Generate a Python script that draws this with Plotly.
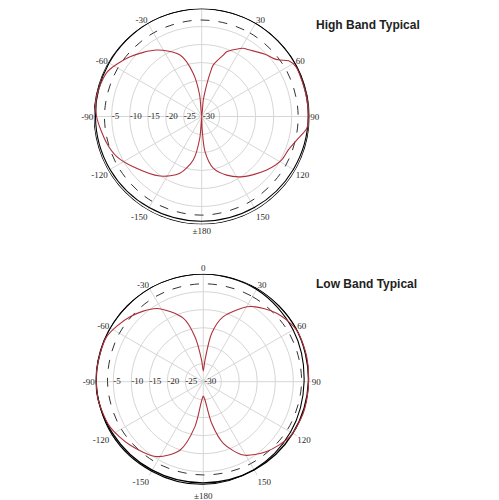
import plotly.graph_objects as go

# angles in degrees (0 = top, clockwise), levels in dB
high_red_ang = [0, 5.5, 7.6, 10.9, 12.7, 19.4, 21.1, 31.4, 33.8, 46.6, 50.9, 54.2, 57.4, 62.3,
                67.1, 80.2, 90, 96.4, 103.9, 111.1, 118.5, 129.5, 145.4, 156.9, 167.4, 174.6, 178, 180,
                185, 191, 201, 215, 233.7, 244.7, 254.2, 270, 280.7, 295.3, 309.8, 325.9, 340.6, 349,
                354.5, 360]
high_red_db = [-30, -25.4, -23, -17.8, -15.3, -11.9, -10.7, -7.8, -7.5, -5.1, -4.4, -3.2, -1.3, -0.4,
               -0.4, -0.4, -0.4, -0.6, -2.8, -4.2, -4.7, -6.6, -9.7, -12.3, -15.3, -20.2, -26.7, -30,
               -24, -17.7, -13.1, -9.8, -6.4, -3.9, -2.6, -0.8, -0.3, -1.0, -4.1, -7.7, -11.9, -17.8,
               -24, -30]

low_red_ang = [0, 4.5, 9.8, 17.1, 31.9, 47, 61, 76.4, 92.7, 107.5, 122.4, 137.8, 151.4, 162, 168.6,
               174.7, 180, 185.3, 190.5, 198.8, 211.9, 229.2, 244.3, 260.1, 276.3, 295, 311.6, 327.6,
               342.5, 349.5, 355.5, 360]
low_red_db = [-27, -24, -16.4, -11.1, -5.4, -2.1, -0.4, -0.45, -0.8, -0.9, -1.5, -3.8, -6.8, -12, -18.2,
              -24.9, -26, -24.5, -17.3, -9.9, -5.5, -3.1, -1.2, -0.4, -0.2, -0.4, -2.8, -5.9,
              -11.5, -17.3, -24, -27]

ring_ang = [0, 30, 60, 90, 120, 150, 180, 210, 240, 270, 300, 330, 360]
high_outer_a = [0, 0, 0, 0, 0, 0, 0, 0, 0, 0, 0, 0, 0]
high_outer_b = [0, -0.1, -0.2, -0.4, -0.6, -0.8, -0.9, -0.8, -0.6, -0.5, -0.3, -0.1, 0]
high_dash = [-3.2, -3.2, -3.2, -3.2, -3.0, -2.8, -2.6, -2.7, -2.9, -3.0, -3.1, -3.2, -3.2]

low_outer_a = [0, -0.1, -0.3, -0.8, -1.3, -1.7, -1.9, -1.6, -1.0, -0.1, 0, 0, 0]
low_outer_b = [-0.1, -0.4, -1.2, -2.0, -2.0, -1.8, -1.5, -1.3, -0.7, -0.3, -0.2, -0.1, -0.1]
low_dash = [-2.8, -2.7, -2.6, -2.7, -3.1, -3.7, -4.1, -4.0, -3.7, -3.4, -3.1, -2.9, -2.8]

ang_ticks = [0, 30, 60, 90, 120, 150, 180, 210, 240, 270, 300, 330]
ang_labels = ["0", "30", "60", "90", "120", "150", "±180", "-150", "-120", "-90", "-60", "-30"]

# dB labels run along the left spoke, -30 just right of centre
rad_ticks = [-30, -25, -20, -15, -10, -5, 0]
rad_label_ang = [90, 270, 270, 270, 270, 270]
rad_label_r = [-29.7, -25, -20, -15, -10, -5]
rad_labels = ["-30", "-25", "-20", "-15", "-10", "-5"]

RED = "#b0303a"
LABEL_FONT = dict(family="Liberation Serif", size=9, color="#2a2a2a")
fig = go.Figure()

def add_set(sub, red_a, red_r, outer_a, outer_b, dash):
    fig.add_trace(go.Scatterpolar(theta=ring_ang, r=outer_a, mode="lines", subplot=sub,
                                  line=dict(color="black", width=1.4, shape="spline"),
                                  cliponaxis=False, hoverinfo="skip"))
    fig.add_trace(go.Scatterpolar(theta=ring_ang, r=outer_b, mode="lines", subplot=sub,
                                  line=dict(color="black", width=1.1, shape="spline"),
                                  cliponaxis=False, hoverinfo="skip"))
    fig.add_trace(go.Scatterpolar(theta=ring_ang, r=dash, mode="lines", subplot=sub,
                                  line=dict(color="#333333", width=1, dash="dash", shape="spline"),
                                  hoverinfo="skip"))
    fig.add_trace(go.Scatterpolar(theta=red_a, r=red_r, mode="lines", subplot=sub,
                                  line=dict(color=RED, width=1.1, shape="spline", smoothing=0.8),
                                  cliponaxis=False, hoverinfo="skip"))
    fig.add_trace(go.Scatterpolar(theta=rad_label_ang, r=rad_label_r, mode="text", subplot=sub,
                                  text=rad_labels, textposition="middle right",
                                  textfont=LABEL_FONT, cliponaxis=False, hoverinfo="skip"))

add_set("polar", high_red_ang, high_red_db, high_outer_a, high_outer_b, high_dash)
add_set("polar2", low_red_ang, low_red_db, low_outer_a, low_outer_b, low_dash)

polar_style = dict(
    bgcolor="white",
    angularaxis=dict(rotation=90, direction="clockwise", tickmode="array",
                     tickvals=ang_ticks, ticktext=ang_labels, ticks="",
                     tickfont=LABEL_FONT, showline=False, gridcolor="#d6d6d6", gridwidth=1),
    radialaxis=dict(range=[-30, 0], tickmode="array", tickvals=rad_ticks,
                    angle=180, ticks="", showline=False, showticklabels=False,
                    gridcolor="#d6d6d6", gridwidth=1),
)

# the page body adds an 8 px margin, domains below allow for it
fig.update_layout(
    width=499, height=500,
    margin=dict(l=0, r=0, t=0, b=0),
    paper_bgcolor="white",
    showlegend=False,
    polar=dict(domain=dict(x=[0.1717, 0.6046], y=[0.567, 0.999]), **polar_style),
    polar2=dict(domain=dict(x=[0.1749, 0.6078], y=[0.0366, 0.4686]), **polar_style),
    annotations=[
        dict(text="<b>High Band Typical</b>", x=0.6138, y=0.966, xref="paper", yref="paper",
             xanchor="left", yanchor="middle", showarrow=False,
             font=dict(family="Liberation Sans", size=12, color="#222222")),
        dict(text="<b>Low Band Typical</b>", x=0.6138, y=0.4486, xref="paper", yref="paper",
             xanchor="left", yanchor="middle", showarrow=False,
             font=dict(family="Liberation Sans", size=12, color="#222222")),
    ],
)

fig.write_html("out.html")
